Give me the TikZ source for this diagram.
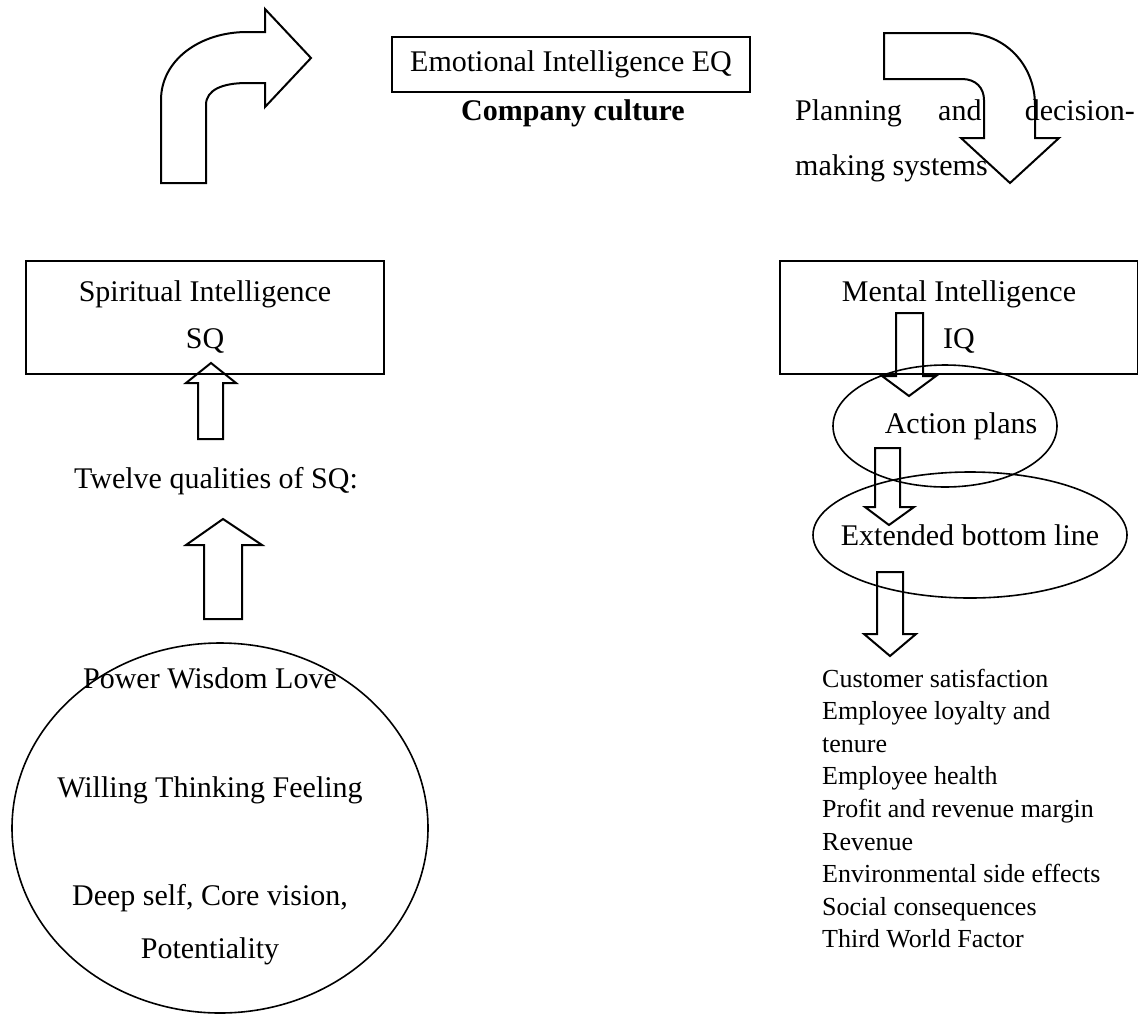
\documentclass[tikz,border=0pt]{standalone}
\usepackage{fontspec}
\setmainfont{Liberation Serif}
\usetikzlibrary{shapes.geometric}

\tikzset{
  box/.style={draw, line width=2.5pt, minimum width=358pt, inner sep=0pt, align=center, font=\fontsize{30}{47}\selectfont},
  oval/.style={draw, ellipse, line width=1.6pt, inner sep=0pt},
  blk/.style={draw, line width=2pt, line join=miter},
  txt/.style={font=\fontsize{30}{36}\selectfont, inner sep=0pt, anchor=base},
  lst/.style={font=\fontsize{26}{32}\selectfont, inner sep=0pt, anchor=base west}
}

\begin{document}
\begin{tikzpicture}[x=1pt, y=-1pt]
    \useasboundingbox (0,0) rectangle (1138,1015);

    % the three intelligences
    \node[box, minimum height=55pt] (eq) at (571,64.5) {Emotional Intelligence EQ};
    \node[box, minimum height=113pt] (sq) at (205,317.5) {Spiritual Intelligence\\SQ};
    \node[box, minimum height=113pt] (iq) at (959,317.5) {Mental Intelligence\\IQ};

    % curved arrows at the top
    \path[blk] (161,183) -- (161,100) .. controls (161,60) and (200,32) .. (247,32)
        -- (265,32) -- (265,9) -- (311,58) -- (265,107) -- (265,83) -- (247,83)
        .. controls (222,83) and (206,90) .. (206,105) -- (206,183) -- cycle;
    \path[blk] (884,33) -- (965,33) .. controls (1005,33) and (1035,65) .. (1035,105)
        -- (1035,138) -- (1059,138) -- (1010,183) -- (961,138) -- (984,138)
        -- (984,100) .. controls (984,88) and (976,79) .. (962,79) -- (884,79) -- cycle;

    \node[txt] (culture) at (573,120) {\bfseries Company culture};
    \node[txt, anchor=base west] (plan1) at (795,120) {Planning};
    \node[txt, anchor=base west] (plan2) at (938,120) {and};
    \node[txt, anchor=base east] (plan3) at (1135,120) {decision-};
    \node[txt, anchor=base west] (plan4) at (795,175) {making systems};

    % left column
    \path[blk] (211,363) -- (236,383) -- (223,383) -- (223,439) -- (198,439) -- (198,383) -- (186,383) -- cycle;
    \node[txt] (twelve) at (216,488) {Twelve qualities of SQ:};
    \path[blk] (223,519) -- (262,545) -- (242,545) -- (242,619) -- (204,619) -- (204,545) -- (186,545) -- cycle;
    \node[oval, minimum width=416pt, minimum height=370pt] (core) at (220,828) {};
    \node[txt] (pwl) at (210,688) {Power Wisdom Love};
    \node[txt] (wtf) at (210,797) {Willing Thinking Feeling};
    \node[txt] (deep) at (210,905) {Deep self, Core vision,};
    \node[txt] (pot) at (210,958) {Potentiality};

    % right column
    \path[blk] (896,313) -- (923,313) -- (923,376) -- (936,376) -- (909,396) -- (882,376) -- (896,376) -- cycle;
    \node[oval, minimum width=224pt, minimum height=122pt] (action) at (945,426) {};
    \node[txt] (actiontxt) at (961,433) {Action plans};
    \path[blk] (875,448) -- (900,448) -- (900,507) -- (914,507) -- (889,525) -- (865,507) -- (875,507) -- cycle;
    \node[oval, minimum width=314pt, minimum height=126pt] (bottom) at (970,535) {};
    \node[txt] (bottomtxt) at (970,545) {Extended bottom line};
    \path[blk] (877,572) -- (903,572) -- (903,634) -- (916,634) -- (890,656) -- (864,634) -- (877,634) -- cycle;

    \foreach \t [count=\i] in {Customer satisfaction, Employee loyalty and, tenure,
        Employee health, Profit and revenue margin, Revenue,
        Environmental side effects, Social consequences, Third World Factor}
        \node[lst] (item\i) at (822,{687+32.6*(\i-1)}) {\t};
\end{tikzpicture}
\end{document}
